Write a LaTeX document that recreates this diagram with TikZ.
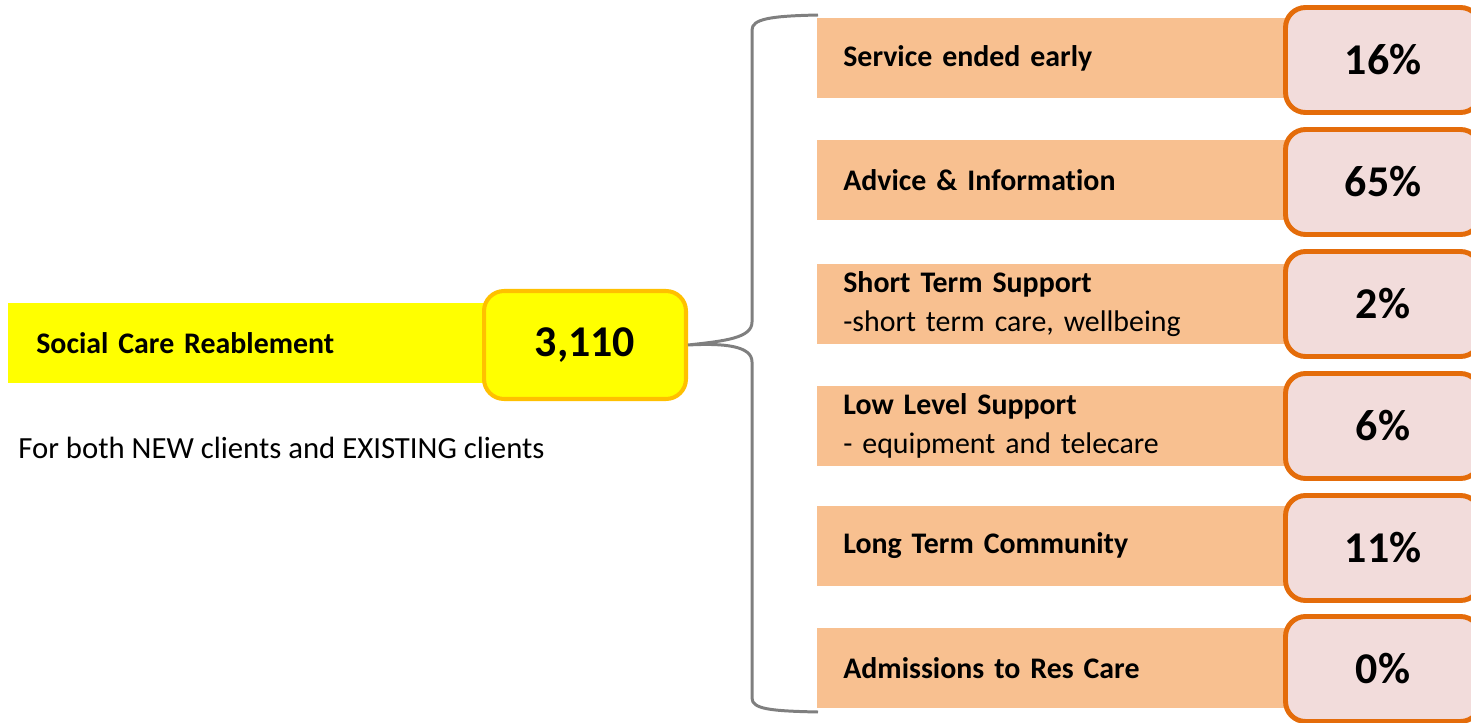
\documentclass[tikz,border=0pt]{standalone}
\usepackage{fontspec}
\setmainfont{Carlito}[Ligatures=NoCommon]
\usepackage{tikz}
\usetikzlibrary{shapes}
\definecolor{headyellow}{HTML}{FFFF00}
\definecolor{gold}{HTML}{FFC000}
\definecolor{peach}{HTML}{F8C090}
\definecolor{pinkfill}{HTML}{F2DCDB}
\definecolor{darkorange}{HTML}{E46C0A}
\definecolor{bracegray}{HTML}{7F7F7F}
\tikzstyle{headbar}=[anchor=west,fill=headyellow,minimum width=9.7cm,minimum height=1.6cm,inner xsep=0.56cm,text width=8.58cm,align=left,font=\fontsize{17}{22}\selectfont\bfseries]
\tikzstyle{totalbox}=[draw=gold,fill=headyellow,line width=2.3pt,rounded corners=0.4cm,minimum width=4.04cm,minimum height=2.16cm,font=\fontsize{25}{30}\selectfont\bfseries]
\tikzstyle{catbox}=[anchor=west,fill=peach,minimum width=9.6cm,minimum height=1.62cm,inner xsep=0.52cm,text width=8.56cm,align=left,font=\fontsize{17}{22}\selectfont\bfseries]
\tikzstyle{pctbox}=[draw=darkorange,fill=pinkfill,line width=2.8pt,rounded corners=0.4cm,minimum width=3.9cm,minimum height=2.1cm,font=\fontsize{25}{30}\selectfont\bfseries]
\tikzstyle{bracketline}=[draw=bracegray,line width=1.7pt]

\begin{document}
\begin{tikzpicture}[x=0.02cm,y=-0.02cm]
      \clip (0,0) rectangle (1471,723);
      \useasboundingbox (0,0) rectangle (1471,723);
      % left side
      \node[headbar] (head) at (8,343) {Social Care Reablement};
      \node[totalbox] (total) at (585,345) {3,110};
      \node[anchor=west,inner sep=0pt,font=\fontsize{17.5}{20}\selectfont] (note) at (18,448) {For both NEW clients and EXISTING clients};
      % categories
      \node[catbox] (c1) at (817,58) {Service ended early};
      \node[catbox] (c2) at (817,180) {Advice \& Information};
      \node[catbox] (c3) at (817,304) {Short Term Support\\\mdseries -short term care, wellbeing};
      \node[catbox] (c4) at (817,426) {Low Level Support\\\mdseries - equipment and telecare};
      \node[catbox] (c5) at (817,546) {Long Term Community};
      \node[catbox] (c6) at (817,668) {Admissions to Res Care};
      % percentages
      \node[pctbox] (p1) at (1383,60) {16\%};
      \node[pctbox] (p2) at (1383,182) {65\%};
      \node[pctbox] (p3) at (1383,304) {2\%};
      \node[pctbox] (p4) at (1383,426) {6\%};
      \node[pctbox] (p5) at (1383,548) {11\%};
      \node[pctbox] (p6) at (1383,669) {0\%};
      % bracket
      \coordinate (btop) at (818,15);
      \coordinate (bbot) at (818,712);
      \draw[bracketline] (btop) .. controls (770,16) and (752,19) .. (752,30)
            -- (752,322) .. controls (752,338) and (725,341) .. (total.east)
            .. controls (725,343) and (752,346) .. (752,362)
            -- (752,698) .. controls (752,709) and (770,711) .. (bbot);
  \end{tikzpicture}
\end{document}
